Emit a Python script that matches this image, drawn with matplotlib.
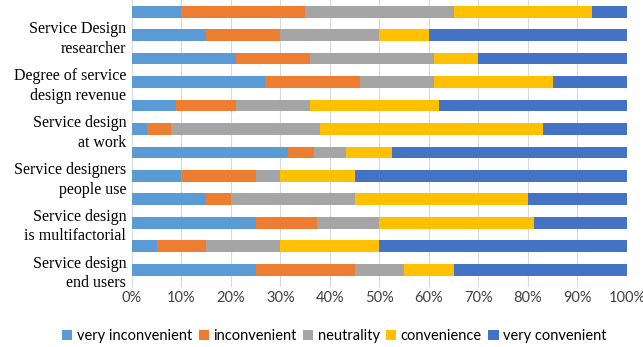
import numpy as np
import matplotlib.pyplot as plt

# rows listed top to bottom, cumulative % boundaries read per segment
series = ['very inconvenient', 'inconvenient', 'neutrality', 'convenience', 'very convenient']
colors = ['#5B9BD5', '#ED7D31', '#A5A5A5', '#FFC000', '#4472C4']

very_inconvenient = [10, 15, 21, 27, 9, 3, 31.6, 10, 15, 25, 5, 25]
inconvenient      = [25, 15, 15, 19, 12, 5, 5.2, 15, 5, 12.5, 10, 20]
neutrality        = [30, 20, 25, 15, 15, 30, 6.4, 5, 25, 12.5, 15, 10]
convenience       = [28, 10, 9, 24, 26, 45, 9.4, 15, 35, 31.25, 20, 10]
very_convenient   = [7, 40, 30, 15, 38, 17, 47.4, 55, 20, 18.75, 50, 35]

# only every other row carries a label
labels = ['Service Design\nresearcher', 'Degree of service\ndesign revenue',
          'Service design\nat work', 'Service designers\npeople use',
          'Service design\nis multifactorial', 'Service design\nend users']
label_rows = [1, 3, 5, 7, 9, 11]

data = np.array([very_inconvenient, inconvenient, neutrality, convenience, very_convenient])
n = data.shape[1]
y = np.arange(n)

fig = plt.figure(figsize=(6.43, 3.47), dpi=100)
ax = fig.add_axes([0.205, 0.172, 0.77, 0.828])

left = np.zeros(n)
for vals, name, c in zip(data, series, colors):
    ax.barh(y, vals, left=left, height=0.5, color=c, label=name, zorder=3)
    left += vals

ax.set_xlim(0, 100)
ax.set_ylim(n - 0.25, -0.5)
ax.set_xticks(np.arange(0, 101, 10))
ax.set_xticklabels([f'{v}%' for v in range(0, 101, 10)], fontsize=10.5,
                   family='Lato', color='#404040')
ax.set_yticks(label_rows)
ax.set_yticklabels(labels, fontsize=11.5, family='Liberation Serif', linespacing=1.3)
ax.tick_params(axis='y', length=0, pad=4)
ax.tick_params(axis='x', length=0, pad=3)
ax.xaxis.grid(True, color='#D9D9D9', linewidth=0.8, zorder=0)
for s in ax.spines.values():
    s.set_visible(False)

fig.legend(loc='center', bbox_to_anchor=(0.52, 0.032), ncol=5, frameon=False,
           handlelength=0.7, handleheight=0.7, handletextpad=0.3, columnspacing=0.45,
           prop={'family': 'Lato', 'size': 10.5})

fig.savefig('out.png', dpi=100)
